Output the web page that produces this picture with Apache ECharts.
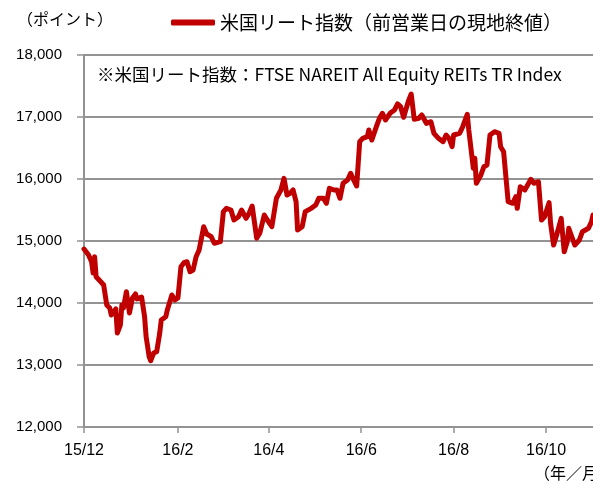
<!DOCTYPE html>
<html>
<head>
<meta charset="utf-8">
<script src="https://cdn.jsdelivr.net/npm/echarts@6/dist/echarts.min.js"></script>
<style>
html, body { margin: 0; padding: 0; background: #fff; }
#main { width: 593px; height: 484px; }
</style>
</head>
<body>
<div id="main"></div>
<script>
// 米国リート指数（読み取り値）
var dates = [
    '2015-12-01','2015-12-04','2015-12-06','2015-12-07','2015-12-08','2015-12-09','2015-12-11','2015-12-14','2015-12-16','2015-12-18',
    '2015-12-19','2015-12-22','2015-12-23','2015-12-25','2015-12-26','2015-12-27','2015-12-29','2015-12-31','2016-01-02','2016-01-04',
    '2016-01-05','2016-01-08','2016-01-10','2016-01-11','2016-01-13','2016-01-14','2016-01-16','2016-01-18','2016-01-20','2016-01-21',
    '2016-01-24','2016-01-25','2016-01-26','2016-01-28','2016-01-30','2016-02-01','2016-02-03','2016-02-05','2016-02-07','2016-02-09',
    '2016-02-11','2016-02-13','2016-02-15','2016-02-18','2016-02-20','2016-02-23','2016-02-25','2016-02-29','2016-03-02','2016-03-04',
    '2016-03-07','2016-03-09','2016-03-12','2016-03-14','2016-03-17','2016-03-19','2016-03-21','2016-03-24','2016-03-26','2016-03-29',
    '2016-03-31','2016-04-03','2016-04-06','2016-04-09','2016-04-11','2016-04-13','2016-04-15','2016-04-17','2016-04-19','2016-04-20',
    '2016-04-23','2016-04-25','2016-04-29','2016-05-02','2016-05-04','2016-05-07','2016-05-09','2016-05-11','2016-05-14','2016-05-16',
    '2016-05-18','2016-05-20','2016-05-23','2016-05-25','2016-05-27','2016-05-29','2016-05-31','2016-06-02','2016-06-05','2016-06-06',
    '2016-06-08','2016-06-11','2016-06-13','2016-06-15','2016-06-17','2016-06-20','2016-06-23','2016-06-25','2016-06-27','2016-06-29',
    '2016-07-02','2016-07-04','2016-07-06','2016-07-09','2016-07-11','2016-07-14','2016-07-17','2016-07-19','2016-07-22','2016-07-25',
    '2016-07-27','2016-07-29','2016-07-31','2016-08-01','2016-08-05','2016-08-07','2016-08-10','2016-08-11','2016-08-14','2016-08-15',
    '2016-08-16','2016-08-19','2016-08-21','2016-08-23','2016-08-25','2016-08-28','2016-08-31','2016-09-01','2016-09-03','2016-09-06',
    '2016-09-09','2016-09-11','2016-09-12','2016-09-14','2016-09-17','2016-09-21','2016-09-23','2016-09-26','2016-09-28','2016-09-30',
    '2016-10-03','2016-10-04','2016-10-06','2016-10-08','2016-10-11','2016-10-13','2016-10-15','2016-10-16','2016-10-18','2016-10-20',
    '2016-10-23','2016-10-25','2016-10-29','2016-10-31','2016-11-01'
];
var values = [
    14870,14774,14666,14484,14747,14424,14371,14290,13968,13919,
    13806,13903,13516,13645,13968,13919,14182,13839,14081,14145,
    14065,14097,13779,13456,13134,13069,13194,13215,13516,13726,
    13779,13887,13919,14129,14048,14081,14585,14650,14666,14505,
    14532,14747,14855,15231,15113,15069,14963,14989,15473,15527,
    15500,15339,15392,15500,15366,15447,15565,15044,15124,15419,
    15339,15231,15689,15823,16011,15742,15769,15823,15634,15177,
    15231,15473,15527,15581,15689,15689,15608,15850,15823,15823,
    15689,15931,15984,16092,15984,15887,16602,16656,16682,16790,
    16629,16844,16979,17060,16952,17060,17113,17210,17166,16995,
    17247,17371,16963,16979,17032,16898,16924,16737,16656,16602,
    16710,16656,16521,16710,16737,16844,17044,16790,16173,16334,
    15931,16065,16198,16226,16710,16763,16737,16521,16440,15634,
    15608,15715,15527,15876,15823,15995,15931,15956,15339,15392,
    15618,15285,14935,15097,15366,14827,14989,15205,15069,14935,
    15016,15150,15205,15311,15419
];

var tickDays = ['2015-12-01','2016-02-01','2016-04-01','2016-06-01','2016-08-01','2016-10-01'];
var tickLabels = ['15/12','16/2','16/4','16/6','16/8','16/10'];
var firstDay = '2015-12-01', lastDay = '2016-11-01';
var yMin = 12000, yMax = 18000, yStep = 1000;
var seriesName = '米国リート指数（前営業日の現地終値）';

// 日次のカテゴリを作る
var days = [];
var t = Date.parse(firstDay + 'T00:00:00Z');
var tEnd = Date.parse(lastDay + 'T00:00:00Z');
while (t <= tEnd) {
    days.push(new Date(t).toISOString().slice(0, 10));
    t += 86400000;
}
var lookup = {};
for (var i = 0; i < dates.length; i++) lookup[dates[i]] = values[i];
var lineData = days.map(function (d) { return lookup[d] === undefined ? '-' : lookup[d]; });

function isTick(index, value) {
    return tickDays.indexOf(value) >= 0;
}

var gray = '#939393';
var font = '"Noto Sans CJK JP", sans-serif';
var numFont = '"Liberation Sans", sans-serif';

var myChart = echarts.init(document.getElementById('main'));
var option = {
    animation: false,
    backgroundColor: '#fff',
    textStyle: { fontFamily: font },
    grid: { left: 84, right: 0, top: 55, bottom: 57, containLabel: false },
    legend: {
        data: [{ name: seriesName, icon: 'roundRect' }],
        left: 166, top: 8,
        itemWidth: 44, itemHeight: 6,
        itemGap: 5,
        textStyle: { fontSize: 19, color: '#000', fontFamily: font }
    },
    graphic: [
        { type: 'text', left: 17, top: 11, style: { text: '（ポイント）', font: '16px ' + font, fill: '#000' } },
        { type: 'text', left: 97, top: 66, style: { text: '※米国リート指数：FTSE NAREIT All Equity REITs TR Index', font: '17.5px ' + font, fill: '#000' } },
        { type: 'text', left: 534, top: 465, style: { text: '（年／月）', font: '16px ' + font, fill: '#000' } }
    ],
    xAxis: {
        type: 'category',
        data: days,
        boundaryGap: false,
        axisLine: { lineStyle: { color: gray, width: 2 } },
        axisTick: { interval: isTick, length: 6, lineStyle: { color: gray, width: 1.5 } },
        axisLabel: {
            interval: isTick,
            margin: 16,
            fontSize: 16,
            color: '#000',
            fontFamily: numFont,
            formatter: function (v) {
                var k = tickDays.indexOf(v);
                return k >= 0 ? tickLabels[k] : '';
            }
        },
        splitLine: { show: false }
    },
    yAxis: {
        type: 'value',
        min: yMin, max: yMax, interval: yStep,
        axisLine: { show: true, lineStyle: { color: gray, width: 2 } },
        axisTick: { show: true, length: 7, lineStyle: { color: gray, width: 1.5 } },
        axisLabel: {
            margin: 22,
            fontSize: 15,
            color: '#000',
            fontFamily: numFont,
            formatter: function (v) { return v.toLocaleString('en-US'); }
        },
        splitLine: { lineStyle: { color: gray, width: 2 } }
    },
    series: [{
        name: seriesName,
        type: 'line',
        data: lineData,
        connectNulls: true,
        showSymbol: false,
        symbol: 'none',
        lineStyle: { color: '#c00000', width: 5, join: 'round', cap: 'round' },
        itemStyle: { color: '#c00000' }
    }]
};
myChart.setOption(option);
</script>
</body>
</html>
